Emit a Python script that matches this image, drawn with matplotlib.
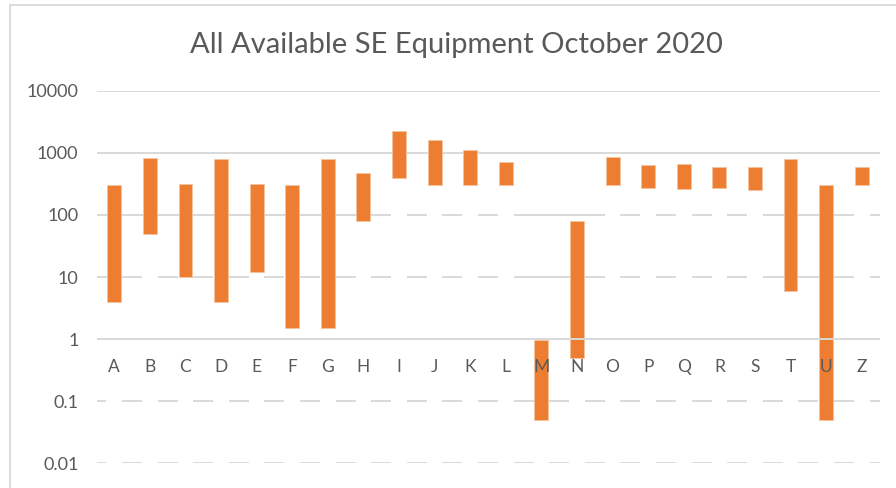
import matplotlib
matplotlib.use("Agg")
import matplotlib.pyplot as plt
from matplotlib.lines import Line2D
import numpy as np

categories = ["A", "B", "C", "D", "E", "F", "G", "H", "I", "J", "K",
              "L", "M", "N", "O", "P", "Q", "R", "S", "T", "U", "Z"]
low_values = [4, 50, 10, 4, 12, 1.5, 1.5, 80, 400, 300, 300,
              300, 0.05, 0.5, 300, 270, 260, 275, 250, 6, 0.05, 300]
high_values = [300, 830, 310, 800, 310, 300, 800, 470, 2250, 1600, 1100,
               700, 0.95, 80, 870, 630, 650, 600, 600, 800, 300, 590]
y_ticks = [0.01, 0.1, 1, 10, 100, 1000, 10000]
y_tick_labels = ["0.01", "0.1", "1", "10", "100", "1000", "10000"]
title = "All Available SE Equipment October 2020"

plt.rcParams['font.family'] = ['Lato', 'DejaVu Sans']
TXT = "#595959"
GRID = "#d9d9d9"
BAR = "#ED7D31"

W, H = 896, 488
fig = plt.figure(figsize=(W / 100, H / 100), dpi=100)

# chart-area border (top and left visible)
fig.add_artist(Line2D([10 / W, 10 / W], [0, 1 - 5 / H], transform=fig.transFigure,
                      color=GRID, lw=1.3))
fig.add_artist(Line2D([10 / W, 1], [1 - 5 / H, 1 - 5 / H], transform=fig.transFigure,
                      color=GRID, lw=1.3))

left, right = 96.5 / W, 879.5 / W
top_px, bot_px = 90.7, 463.3
ax = fig.add_axes([left, 1 - bot_px / H, right - left, (bot_px - top_px) / H])

n = len(categories)
x = np.arange(n)
low = np.array(low_values)
high = np.array(high_values)
ax.bar(x, high - low, bottom=low, width=0.39, color=BAR, zorder=2,
       edgecolor="#F6C4A0", linewidth=0.6)

ax.set_yscale("log")
ax.set_ylim(y_ticks[0], y_ticks[-1])
ax.set_xlim(-0.5, n - 0.5)
ax.set_yticks(y_ticks)
ax.set_yticklabels(y_tick_labels)
ax.yaxis.set_minor_locator(matplotlib.ticker.NullLocator())
ax.tick_params(axis="y", length=0, pad=13, labelsize=13, labelcolor=TXT)

ax.spines["bottom"].set_position(("data", 1))
ax.set_xticks(x)
ax.set_xticklabels(categories)
ax.tick_params(axis="x", length=0, pad=14, labelsize=12.5, labelcolor=TXT)
for s in ["top", "right", "left", "bottom"]:
    ax.spines[s].set_visible(False)
for lab in ax.get_xticklabels():
    lab.set_zorder(6)
ax.xaxis.set_zorder(6)


def dashes_line(yv, solid_spans):
    segs = []
    for i in range(-1, n + 1):
        a, b = i + 0.22, i + 0.78
        a, b = max(a, -0.5), min(b, n - 0.5)
        if b > a:
            segs.append((a, b))
    segs += solid_spans
    for a, b in segs:
        ax.plot([a, b], [yv, yv], color=GRID, lw=1.4, zorder=1,
                solid_capstyle="butt")


for yv in [10000, 1000]:
    ax.plot([-0.5, n - 0.5], [yv, yv], color=GRID, lw=1.4, zorder=1)
ax.plot([-0.5, n - 0.5], [1, 1], color=GRID, lw=1.4, zorder=5)
dashes_line(100, [(-0.5, 7.78), (11.22, 13.78), (18.22, 20.78)])
dashes_line(10, [(-0.5, 0.78), (11.22, 13.78), (18.22, 20.78)])
dashes_line(0.1, [])
dashes_line(0.01, [])

fig.text(456 / W, 1 - 45 / H, title, ha="center", va="center",
         fontsize=21, color=TXT)

fig.savefig("out.png", dpi=100)
